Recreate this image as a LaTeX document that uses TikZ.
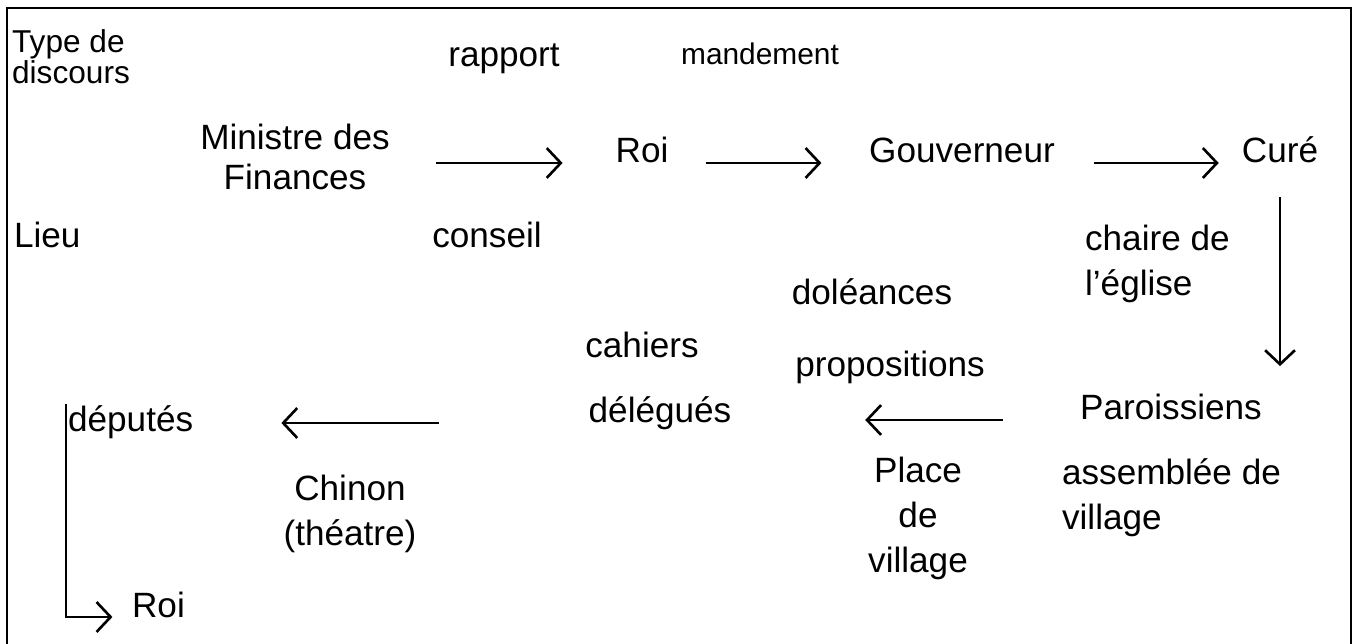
\documentclass[tikz,border=0pt]{standalone}
\usepackage{fontspec}
\setmainfont{Liberation Sans}
\usetikzlibrary{arrows.meta}
\begin{document}
\begin{tikzpicture}[x=0.02cm,y=-0.02cm,
  lbl/.style={inner sep=1pt,font=\fontsize{20}{25.5}\selectfont},
  sml/.style={inner sep=1pt,font=\fontsize{17}{19}\selectfont},
  arr/.style={draw,line width=1.5pt,-{Straight Barb[length=8pt,width=17pt,line width=1.5pt]}}]
\useasboundingbox (0,0) rectangle (1361,644);
\draw[line width=1.6pt] (7,644) -- (7,8) -- (1351,8) -- (1351,644);

\node[sml,align=left,anchor=north west,font=\fontsize{18}{13.5}\selectfont] (type) at (10,27) {Type de\\discours};
\node[lbl,anchor=base] (rapport) at (504,67) {rapport};
\node[sml,anchor=base] (mandement) at (760,65) {mandement};
\node[lbl,align=center,font=\fontsize{20}{23}\selectfont] (ministre) at (295,157) {Ministre des\\Finances};
\node[lbl,anchor=base] (roi) at (642,163) {Roi};
\node[lbl,anchor=base] (gouv) at (962,163) {Gouverneur};
\node[lbl,anchor=base] (cure) at (1280,163) {Curé};
\node[lbl,anchor=base west] (lieu) at (12,248) {Lieu};
\node[lbl,anchor=base] (conseil) at (487,248) {conseil};
\node[lbl,align=left,anchor=north west] (chaire) at (1083,223) {chaire de\\l'église};
\node[lbl,anchor=base] (doleances) at (872,305) {doléances};
\node[lbl,anchor=base] (propositions) at (890,377) {propositions};
\node[lbl,anchor=base] (cahiers) at (642,358) {cahiers};
\node[lbl,anchor=base] (delegues) at (660,423) {délégués};
\node[lbl,anchor=base] (paroissiens) at (1171,420) {Paroissiens};
\node[lbl,align=left,anchor=north west] (assemblee) at (1060,457) {assemblée de\\village};
\node[lbl,align=center,anchor=north] (place) at (918,455) {Place\\de\\village};
\node[lbl,anchor=base west] (deputes) at (66,432) {députés};
\node[lbl,align=center,anchor=north] (chinon) at (350,473) {Chinon\\(théatre)};
\node[lbl,anchor=base west] (roi2) at (130,617) {Roi};

\path[arr,shorten <=25pt,shorten >=29pt] (ministre.east |- roi.base) -- (roi.base west);
\path[arr,shorten <=20pt,shorten >=26pt] (roi.base east) -- (gouv.base west);
\path[arr,shorten <=21pt,shorten >=12pt] (gouv.base east) -- (cure.base west);
\path[arr,shorten <=18pt,shorten >=15pt] (cure.south) -- (cure.south |- paroissiens.north);
\path[arr,shorten <=43pt,shorten >=75pt] (paroissiens.base west) -- (paroissiens.base west -| delegues.east);
\path[arr,shorten <=84pt,shorten >=49pt] (delegues.base west) -- (delegues.base west -| deputes.east);
\path[arr,shorten >=10pt] (deputes.north west) |- (roi2.base west);
\end{tikzpicture}
\end{document}
